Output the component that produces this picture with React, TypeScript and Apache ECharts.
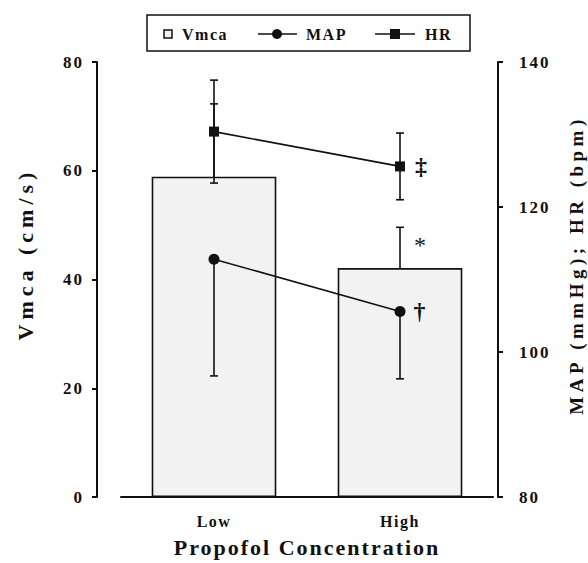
import React, { useEffect, useRef } from "react";
import * as echarts from "echarts";

const categories = ["Low", "High"];
const vmcaMean = [58.9, 42.1];
const vmcaSD = [13.4, 7.5];
const vmcaMarks = ["", "*"];
const mapMean = [112.8, 105.6];
const mapSD = [16.1, 9.3];
const mapMarks = ["", "†"];
const hrMean = [130.4, 125.6];
const hrSD = [7.1, 4.6];
const hrMarks = ["", "‡"];
const leftTitle = "Vmca (cm/s)";
const rightTitle = "MAP (mmHg); HR (bpm)";
const xTitle = "Propofol Concentration";

const FONT = "Liberation Serif, Times New Roman, serif";

function errRender(dir: "up" | "down" | "both", marks?: string[]) {
  return (params: any, api: any) => {
    const x = api.value(0);
    const mean = api.value(1);
    const sd = api.value(2);
    const pMean = api.coord([x, mean]);
    const pHi = api.coord([x, mean + sd]);
    const pLo = api.coord([x, mean - sd]);
    const top = dir === "down" ? pMean : pHi;
    const bot = dir === "up" ? pMean : pLo;
    const style = { stroke: "#111", lineWidth: 1.6 };
    const children: any[] = [
      { type: "line", shape: { x1: top[0], y1: top[1], x2: bot[0], y2: bot[1] }, style },
    ];
    if (dir !== "down")
      children.push({ type: "line", shape: { x1: pHi[0] - 4, y1: pHi[1], x2: pHi[0] + 4, y2: pHi[1] }, style });
    if (dir !== "up")
      children.push({ type: "line", shape: { x1: pLo[0] - 4, y1: pLo[1], x2: pLo[0] + 4, y2: pLo[1] }, style });
    const m = marks ? marks[params.dataIndex] : "";
    if (m) {
      children.push({
        type: "text",
        style: {
          text: m,
          x: pHi[0] + 20,
          y: pHi[1] + 18,
          align: "center",
          verticalAlign: "middle",
          fontSize: 24,
          fontFamily: FONT,
          fill: "#111",
        },
      });
    }
    return { type: "group", children };
  };
}

const spacing: Record<string, number> = {
  [leftTitle]: 5,
  [rightTitle]: 4.5,
  [xTitle]: 2,
  Low: 1.5,
  High: 1.5,
  Vmca: 1.5,
  MAP: 1.5,
  HR: 1.5,
  "0": 2,
  "20": 2,
  "40": 2,
  "60": 2,
  "80": 2,
  "100": 2,
  "120": 2,
  "140": 2,
};

export default function App() {
  const ref = useRef<HTMLDivElement>(null);
  useEffect(() => {
    const chart = echarts.init(ref.current!, undefined, { renderer: "svg" });
    const axisLabel = { color: "#111", fontFamily: FONT, fontWeight: "bold" as const, fontSize: 17 };
    const lineStyle = { color: "#111", width: 2 };
    const legendY = 34;
    const legendText = { fontFamily: FONT, fontWeight: "bold", fontSize: 16, fill: "#111", verticalAlign: "middle" };
    const markLabel = { fontSize: 24, fontFamily: FONT, fontWeight: "bold", color: "#111" };
    const option: any = {
      animation: false,
      grid: { left: 121, right: 95, top: 62, bottom: 64 },
      xAxis: {
        type: "category",
        data: categories,
        axisLine: { lineStyle },
        axisTick: { alignWithLabel: true, length: 6, lineStyle },
        axisLabel: { ...axisLabel, fontSize: 16, margin: 16 },
        name: xTitle,
        nameLocation: "middle",
        nameGap: 39,
        nameTextStyle: { color: "#111", fontFamily: FONT, fontWeight: "bold", fontSize: 22 },
      },
      yAxis: [
        {
          type: "value",
          min: 0,
          max: 80,
          interval: 20,
          offset: 24,
          axisLine: { show: true, lineStyle },
          axisTick: { show: true, length: 5, lineStyle },
          axisLabel: { ...axisLabel, margin: 13 },
          splitLine: { show: false },
        },
        {
          type: "value",
          min: 80,
          max: 140,
          interval: 20,
          offset: 5,
          position: "right",
          axisLine: { show: true, lineStyle },
          axisTick: { show: true, length: 5, lineStyle },
          axisLabel: { ...axisLabel, margin: 21 },
          splitLine: { show: false },
        },
      ],
      series: [
        {
          name: "Vmca",
          type: "bar",
          data: vmcaMean,
          barWidth: "67%",
          yAxisIndex: 0,
          itemStyle: { color: "#f2f2f2", borderColor: "#111", borderWidth: 1.6 },
          z: 1,
        },
        {
          name: "Vmca err",
          type: "custom",
          yAxisIndex: 0,
          renderItem: errRender("up", vmcaMarks),
          data: vmcaMean.map((v, i) => [i, v, vmcaSD[i]]),
          z: 2,
        },
        {
          name: "MAP err",
          type: "custom",
          yAxisIndex: 1,
          renderItem: errRender("down"),
          data: mapMean.map((v, i) => [i, v, mapSD[i]]),
          z: 2,
        },
        {
          name: "HR err",
          type: "custom",
          yAxisIndex: 1,
          renderItem: errRender("both"),
          data: hrMean.map((v, i) => [i, v, hrSD[i]]),
          z: 2,
        },
        {
          name: "MAP",
          type: "line",
          yAxisIndex: 1,
          symbol: "circle",
          symbolSize: 11,
          itemStyle: { color: "#111" },
          lineStyle: { color: "#111", width: 1.6 },
          data: mapMean.map((v, i) => ({
            value: v,
            label: mapMarks[i]
              ? { show: true, formatter: mapMarks[i], position: "right", distance: 8, ...markLabel }
              : { show: false },
          })),
          z: 3,
        },
        {
          name: "HR",
          type: "line",
          yAxisIndex: 1,
          symbol: "rect",
          symbolSize: 10,
          itemStyle: { color: "#111" },
          lineStyle: { color: "#111", width: 1.6 },
          data: hrMean.map((v, i) => ({
            value: v,
            label: hrMarks[i]
              ? { show: true, formatter: hrMarks[i], position: "right", distance: 10, ...markLabel }
              : { show: false },
          })),
          z: 3,
        },
      ],
      graphic: [
        {
          type: "text",
          x: 25,
          y: 254,
          rotation: Math.PI / 2,
          style: { text: leftTitle, fontFamily: FONT, fontWeight: "bold", fontSize: 22, fill: "#111", align: "center", verticalAlign: "middle" },
        },
        {
          type: "text",
          x: 576,
          y: 265,
          rotation: Math.PI / 2,
          style: { text: rightTitle, fontFamily: FONT, fontWeight: "bold", fontSize: 19, fill: "#111", align: "center", verticalAlign: "middle" },
        },
        { type: "rect", shape: { x: 147, y: 15, width: 323, height: 36 }, style: { fill: "#fff", stroke: "#111", lineWidth: 1.5 } },
        { type: "rect", shape: { x: 164, y: legendY - 4, width: 8, height: 8 }, style: { fill: "#f2f2f2", stroke: "#111", lineWidth: 1.5 } },
        { type: "text", x: 182, y: legendY, style: { text: "Vmca", ...legendText } },
        { type: "line", shape: { x1: 258, y1: legendY, x2: 297, y2: legendY }, style: { stroke: "#111", lineWidth: 1.6 } },
        { type: "circle", shape: { cx: 277, cy: legendY, r: 5 }, style: { fill: "#111" } },
        { type: "text", x: 306, y: legendY, style: { text: "MAP", ...legendText } },
        { type: "line", shape: { x1: 375, y1: legendY, x2: 415, y2: legendY }, style: { stroke: "#111", lineWidth: 1.6 } },
        { type: "rect", shape: { x: 390, y: legendY - 5, width: 10, height: 10 }, style: { fill: "#111" } },
        { type: "text", x: 425, y: legendY, style: { text: "HR", ...legendText } },
      ],
    };
    chart.setOption(option);
    const applySpacing = () => {
      ref.current?.querySelectorAll("text").forEach((t) => {
        const s = spacing[(t.textContent || "").trim()];
        if (s) (t as SVGTextElement).style.letterSpacing = s + "px";
      });
    };
    applySpacing();
    chart.on("finished", applySpacing);
    return () => chart.dispose();
  }, []);
  return <div ref={ref} style={{ position: "fixed", left: 0, top: 0, width: 588, height: 563, background: "#fff" }} />;
}
